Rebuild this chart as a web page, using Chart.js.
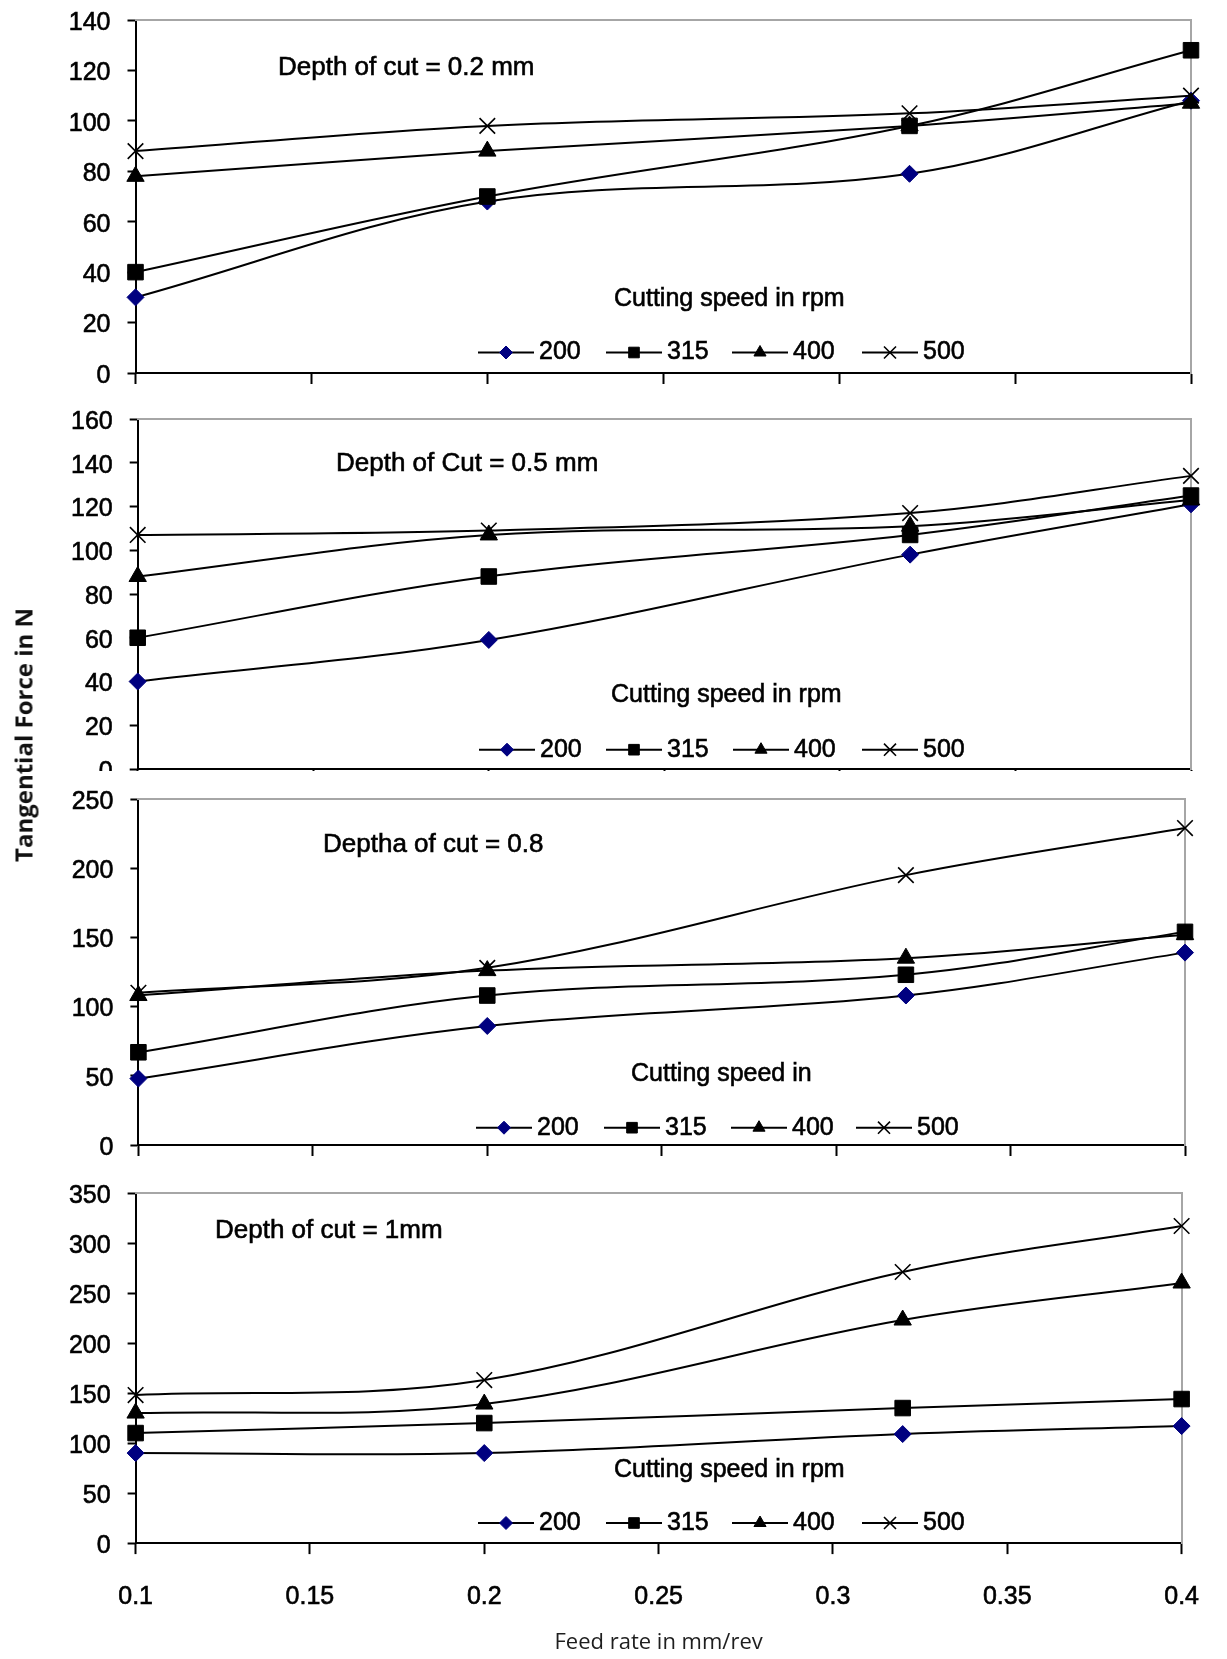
<!DOCTYPE html>
<html>
<head>
<meta charset="utf-8">
<script src="https://cdn.jsdelivr.net/npm/chart.js@4.4.1/dist/chart.umd.min.js"></script>
<style>
  html, body { margin: 0; padding: 0; background: #ffffff; }
  body { width: 1227px; height: 1659px; position: relative; overflow: hidden; }
  .panel { position: absolute; left: 0; width: 1227px; overflow: hidden; }
  .panel canvas { position: absolute; left: 0; top: 0; }
  #ytitle {
    position: absolute; left: 23px; top: 735px;
    transform: translate(-50%, -50%) rotate(-90deg);
    white-space: nowrap; font-family: "Open Sans", sans-serif; font-weight: bold;
    font-size: 24px; color: #111;
  }
</style>
</head>
<body>
<div id="p1" class="panel"></div>
<div id="p2" class="panel"></div>
<div id="p3" class="panel"></div>
<div id="p4" class="panel"></div>
<div id="ytitle">Tangential Force in N</div>
<script>
// ---------------- data ----------------
const feedRate = [0.1, 0.2, 0.32, 0.4];
const speedLabels = ['200', '315', '400', '500'];
const xTickValues = [0.1, 0.15, 0.2, 0.25, 0.3, 0.35, 0.4];
const xAxisTitle = 'Feed rate in mm/rev';
const yAxisTitle = 'Tangential Force in N';

const yTicksD02 = [0, 20, 40, 60, 80, 100, 120, 140];
const yTicksD05 = [0, 20, 40, 60, 80, 100, 120, 140, 160];
const yTicksD08 = [0, 50, 100, 150, 200, 250];
const yTicksD10 = [0, 50, 100, 150, 200, 250, 300, 350];

const depthLabels = ['Depth of cut = 0.2 mm', 'Depth of Cut = 0.5 mm', 'Deptha of cut = 0.8', 'Depth of cut = 1mm'];
const legendTitles = ['Cutting speed in rpm', 'Cutting speed in rpm', 'Cutting speed in', 'Cutting speed in rpm'];

// depth of cut 0.2 mm
const forceD02_200 = [30, 68, 79, 108];
const forceD02_315 = [40, 70, 98, 128];
const forceD02_400 = [78, 88, 98, 107];
const forceD02_500 = [88, 98, 103, 110];
// depth of cut 0.5 mm
const forceD05_200 = [40, 59, 98, 121];
const forceD05_315 = [60, 88, 107, 125];
const forceD05_400 = [88, 107, 111, 123];
const forceD05_500 = [107, 109, 117, 134];
// depth of cut 0.8 mm
const forceD08_200 = [48, 86, 108, 139];
const forceD08_315 = [67, 108, 123, 154];
const forceD08_400 = [108, 126, 135, 152];
const forceD08_500 = [110, 128, 195, 229];
// depth of cut 1 mm
const forceD10_200 = [90, 90, 109, 117];
const forceD10_315 = [110, 120, 135, 144];
const forceD10_400 = [130, 139, 223, 260];
const forceD10_500 = [148, 163, 271, 317];

// ---------------- styles / layout ----------------
document.getElementById('ytitle').textContent = yAxisTitle;
const FONT = '"Liberation Sans", Arial, sans-serif';
Chart.defaults.font.family = FONT;
const STROKE = 0.6;

const seriesStyle = [
  { pointStyle: 'rectRot', radius: 8.5, color: '#000080', borderWidth: 1, legendRadius: 6.5 },
  { pointStyle: 'rect', radius: 11, color: '#000000', borderWidth: 1, legendRadius: 7.5 },
  { pointStyle: 'triangle', radius: 10, color: '#000000', borderWidth: 1, legendRadius: 7 },
  { pointStyle: 'crossRot', radius: 11, color: '#000000', borderWidth: 1.6, legendRadius: 8.5 }
];

const panels = [
  { id: 'p1', depth: depthLabels[0], legendTitle: legendTitles[0],
    series: [forceD02_200, forceD02_315, forceD02_400, forceD02_500], yTicks: yTicksD02,
    gridTop: 19.5, gridBottom: 372.3, left: 135.5, right: 1191,
    depthPos: [278, 67], titlePos: [614, 299], rowY: 352, itemX: [478, 606, 732, 862],
    clipBottom: null, showX: false },
  { id: 'p2', depth: depthLabels[1], legendTitle: legendTitles[1],
    series: [forceD05_200, forceD05_315, forceD05_400, forceD05_500], yTicks: yTicksD05,
    gridTop: 419.3, gridBottom: 769.3, left: 137.7, right: 1191,
    depthPos: [336, 464], titlePos: [611, 695], rowY: 750, itemX: [479, 606, 733, 862],
    clipBottom: 771, showX: false },
  { id: 'p3', depth: depthLabels[2], legendTitle: legendTitles[2],
    series: [forceD08_200, forceD08_315, forceD08_400, forceD08_500], yTicks: yTicksD08,
    gridTop: 799.3, gridBottom: 1145, left: 138.4, right: 1185,
    depthPos: [323, 845], titlePos: [631, 1074], rowY: 1128, itemX: [476, 604, 731, 856],
    clipBottom: null, showX: false },
  { id: 'p4', depth: depthLabels[3], legendTitle: legendTitles[3],
    series: [forceD10_200, forceD10_315, forceD10_400, forceD10_500], yTicks: yTicksD10,
    gridTop: 1193, gridBottom: 1543.5, left: 135.6, right: 1191,
    depthPos: [215, 1231], titlePos: [614, 1470], rowY: 1523, itemX: [478, 606, 732, 862],
    clipBottom: null, showX: true }
];

function strokedText(ctx, text, x, y) {
  ctx.lineWidth = STROKE;
  ctx.strokeStyle = '#000';
  ctx.strokeText(text, x, y);
  ctx.fillText(text, x, y);
}

const panelText = {
  id: 'panelText',
  afterDraw(chart, args, opts) {
    const ctx = chart.ctx;
    const off = opts.pageTop;
    ctx.save();
    ctx.textBaseline = 'middle';
    ctx.textAlign = 'left';
    ctx.fillStyle = '#000';
    ctx.font = '26px ' + FONT;
    strokedText(ctx, opts.depth, opts.depthPos[0], opts.depthPos[1] - off);
    ctx.font = '25px ' + FONT;
    strokedText(ctx, opts.legendTitle, opts.titlePos[0], opts.titlePos[1] - off);
    const y = opts.rowY - off;
    const lineLen = 56;
    chart.data.datasets.forEach((ds, i) => {
      const x0 = opts.itemX[i];
      ctx.strokeStyle = '#000';
      ctx.lineWidth = 2;
      ctx.beginPath(); ctx.moveTo(x0, y); ctx.lineTo(x0 + lineLen, y); ctx.stroke();
      ctx.fillStyle = ds.pointBackgroundColor;
      ctx.strokeStyle = ds.pointBorderColor;
      ctx.lineWidth = ds.pointBorderWidth;
      Chart.helpers.drawPoint(ctx, { pointStyle: ds.pointStyle, radius: seriesStyle[i].legendRadius, rotation: 0, borderWidth: ds.pointBorderWidth }, x0 + lineLen / 2, y);
      ctx.fillStyle = '#000';
      ctx.font = '25px ' + FONT;
      strokedText(ctx, ds.label, x0 + lineLen + 5, y);
    });
    ctx.restore();
  }
};

function makeChart(canvas, p, pageTop, padRight) {
  const yMax = p.yTicks[p.yTicks.length - 1];
  const xMin = xTickValues[0], xMax = xTickValues[xTickValues.length - 1];
  const tickFont = { family: FONT, size: 25 };
  return new Chart(canvas, {
    type: 'line',
    data: {
      datasets: speedLabels.map((s, i) => ({
        label: s,
        data: feedRate.map((x, j) => ({ x: x, y: p.series[i][j] })),
        borderColor: '#000',
        borderWidth: 2,
        tension: 0.35,
        fill: false,
        pointStyle: seriesStyle[i].pointStyle,
        pointRadius: seriesStyle[i].radius,
        pointBackgroundColor: seriesStyle[i].color,
        pointBorderColor: seriesStyle[i].color,
        pointBorderWidth: seriesStyle[i].borderWidth,
        order: 4 - i,
        clip: false
      }))
    },
    options: {
      responsive: false,
      maintainAspectRatio: false,
      animation: false,
      devicePixelRatio: 1,
      events: [],
      layout: { padding: { left: 0, right: padRight, top: 20, bottom: 6 } },
      plugins: {
        legend: { display: false },
        tooltip: { enabled: false },
        title: { display: false },
        panelText: { depth: p.depth, legendTitle: p.legendTitle, depthPos: p.depthPos, titlePos: p.titlePos,
                     rowY: p.rowY, itemX: p.itemX, pageTop: pageTop }
      },
      scales: {
        x: {
          type: 'linear', position: 'bottom', min: xMin, max: xMax,
          afterBuildTicks: (s) => { s.ticks = xTickValues.map(v => ({ value: v })); },
          ticks: { display: p.showX, font: tickFont, color: '#000', padding: 28, maxRotation: 0, autoSkip: false,
                   textStrokeColor: '#000', textStrokeWidth: STROKE,
                   callback: (v) => String(v) },
          grid: { display: true, drawOnChartArea: false, drawTicks: true, tickLength: 11, tickWidth: 2, tickColor: '#000' },
          border: { display: true, color: '#000', width: 2 },
          title: { display: p.showX, text: xAxisTitle, font: { family: '"Open Sans", sans-serif', size: 22 }, color: '#1e1e1e',
                   padding: { top: -10.5, bottom: 4 } }
        },
        y: {
          type: 'linear', position: 'left', min: 0, max: yMax,
          afterBuildTicks: (s) => { s.ticks = p.yTicks.map(v => ({ value: v })); },
          afterFit: (s) => { s.width = p.left; },
          ticks: { font: tickFont, color: '#000', padding: 17, labelOffset: 3,
                   textStrokeColor: '#000', textStrokeWidth: STROKE,
                   callback: (v) => String(v) },
          grid: { display: true, drawOnChartArea: false, drawTicks: true, tickLength: 8, tickWidth: 2, tickColor: '#000' },
          border: { display: true, color: '#000', width: 2 }
        },
        xTop: {
          type: 'linear', position: 'top', min: xMin, max: xMax,
          ticks: { display: false }, grid: { display: false, drawTicks: false, tickLength: 0 },
          border: { display: true, color: '#a6a6a6', width: 2 }
        },
        yRight: {
          type: 'linear', position: 'right', min: 0, max: yMax,
          ticks: { display: false }, grid: { display: false, drawTicks: false, tickLength: 0 },
          border: { display: true, color: '#a6a6a6', width: 2 }
        }
      }
    },
    plugins: [panelText]
  });
}

panels.forEach(p => {
  const wrap = document.getElementById(p.id);
  const h = p.gridBottom - p.gridTop;
  const targetPad = 1227 - p.right;
  // first pass: measure the space used around the plot area
  const c0 = document.createElement('canvas');
  c0.width = 1227; c0.height = Math.round(h) + 300;
  wrap.appendChild(c0);
  const ch0 = makeChart(c0, p, 0, targetPad);
  const extraTop = ch0.chartArea.top;
  const extraBottom = c0.height - ch0.chartArea.bottom;
  const extraRight = c0.width - ch0.chartArea.right;
  ch0.destroy();
  wrap.removeChild(c0);
  // second pass: final size
  const padRight = Math.max(0, targetPad - (extraRight - targetPad));
  const H = Math.round(extraTop + h + extraBottom);
  const pageTop = p.gridTop - extraTop;
  const c = document.createElement('canvas');
  c.width = 1227; c.height = H;
  wrap.style.top = pageTop + 'px';
  wrap.style.height = (p.clipBottom ? (p.clipBottom - pageTop) : H) + 'px';
  wrap.appendChild(c);
  makeChart(c, p, pageTop, padRight);
});
</script>
</body>
</html>
